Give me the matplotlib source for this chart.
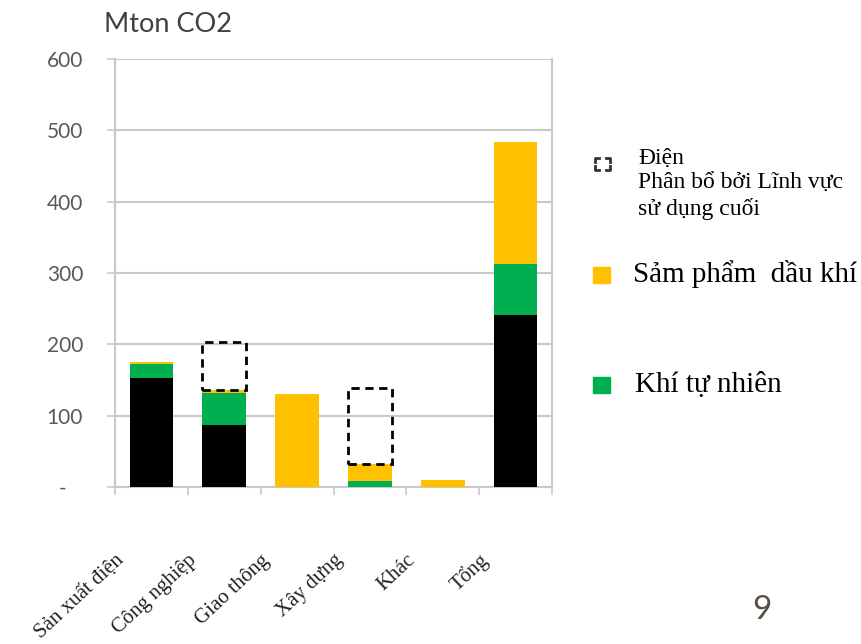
import numpy as np
import matplotlib.pyplot as plt
import matplotlib.transforms as mtransforms
from matplotlib.patches import Rectangle
from matplotlib.lines import Line2D

# Phát thải CO2 theo lĩnh vực (Mton CO2)
categories = ['Sản xuất điện', 'Công nghiệp', 'Giao thông', 'Xây dựng', 'Khác', 'Tổng']
coal = [153, 87, 0, 0, 0, 241]
gas = [19, 45, 0, 8, 0, 71]
oil = [3, 4, 130, 24, 10, 172]
# điện phân bổ cho lĩnh vực sử dụng cuối
electricity = [0, 67, 0, 107, 0, 0]

yticks = [0, 100, 200, 300, 400, 500, 600]
yticklabels = ['-   ', '100', '200', '300', '400', '500', '600']

c_coal = '#000000'
c_gas = '#00b050'
c_oil = '#ffc000'
grid_c = '#c9c9c9'

W, H = 861, 644
fig = plt.figure(figsize=(8.61, 6.44), dpi=100)
ax = fig.add_axes([115/W, 157/H, 437/W, 428/H])

x = np.arange(len(categories))
coal = np.array(coal)
gas = np.array(gas)
oil = np.array(oil)
electricity = np.array(electricity)
w = 0.6

ax.bar(x, coal, w, color=c_coal, zorder=3)
ax.bar(x, gas, w, bottom=coal, color=c_gas, zorder=3)
ax.bar(x, oil, w, bottom=coal + gas, color=c_oil, zorder=3)
top = coal + gas + oil
mask = electricity > 0
ax.bar(x[mask], electricity[mask], w, bottom=top[mask], fill=False,
       edgecolor='black', linestyle=(0, (3, 2)), linewidth=2, zorder=4)

ax.set_xlim(-0.5, 5.5)
ax.set_ylim(0, 600)
ax.set_yticks(yticks)
ax.set_yticklabels(yticklabels, fontsize=15, color='#595959', family='Lato')
ax.yaxis.grid(True, color=grid_c, linewidth=1.5, zorder=0)
ax.tick_params(axis='y', length=6, width=1.2, color=grid_c, pad=17)

ax.set_xticks(x)
ax.set_xticklabels(categories, rotation=43, ha='right', va='center',
                   rotation_mode='anchor', fontsize=15,
                   family='Liberation Serif', color='#222222')
ax.set_xticks(np.arange(-0.5, 6, 1), minor=True)
ax.tick_params(axis='x', which='major', length=0, pad=51)
ax.tick_params(axis='x', which='minor', length=6, width=1.2, color=grid_c)
shift = mtransforms.ScaledTranslation(-0.3, 0, fig.dpi_scale_trans)
for lab in ax.get_xticklabels():
    lab.set_transform(lab.get_transform() + shift)

for s in ['left', 'bottom', 'right']:
    ax.spines[s].set_color(grid_c)
    ax.spines[s].set_linewidth(1.5)
ax.spines['top'].set_visible(False)

fig.text(104/W, 1 - 24/H, 'Mton CO2', fontsize=19.5, family='Lato',
         color='#404040', va='center', ha='left')

# chú giải
serif = 'Liberation Serif'
# ký hiệu khung nét đứt: bốn góc
x0, x1, y0, y1 = 595, 610, 158, 170
arm = 4
for cx, cy, dx, dy in [(x0, y0, 1, 1), (x1, y0, -1, 1), (x0, y1, 1, -1), (x1, y1, -1, -1)]:
    fig.add_artist(Line2D([(cx + dx*arm)/W, cx/W, cx/W],
                          [1 - cy/H, 1 - cy/H, 1 - (cy + dy*arm)/H],
                          color='#333333', linewidth=2, transform=fig.transFigure))
fig.text(638/W, 1 - 158/H, 'Điện', fontsize=17, family=serif, va='center')
fig.text(638/W, 1 - 183/H, 'Phân bổ bởi Lĩnh vực', fontsize=17, family=serif, va='center')
fig.text(638/W, 1 - 209/H, 'sử dụng cuối', fontsize=17, family=serif, va='center')

fig.add_artist(Rectangle((593/W, 1 - 283/H), 17/W, 16/H, color=c_oil,
                         transform=fig.transFigure))
fig.text(633/W, 1 - 274/H, 'Sảm phẩm  dầu khí', fontsize=21, family=serif, va='center')

fig.add_artist(Rectangle((593/W, 1 - 393/H), 17/W, 16/H, color=c_gas,
                         transform=fig.transFigure))
fig.text(635/W, 1 - 385/H, 'Khí tự nhiên', fontsize=21, family=serif, va='center')

fig.text(762/W, 1 - 610/H, '9', fontsize=24, family='Lato',
         color='#5a4e3c', va='center', ha='center')

fig.savefig('out.png', dpi=100)
